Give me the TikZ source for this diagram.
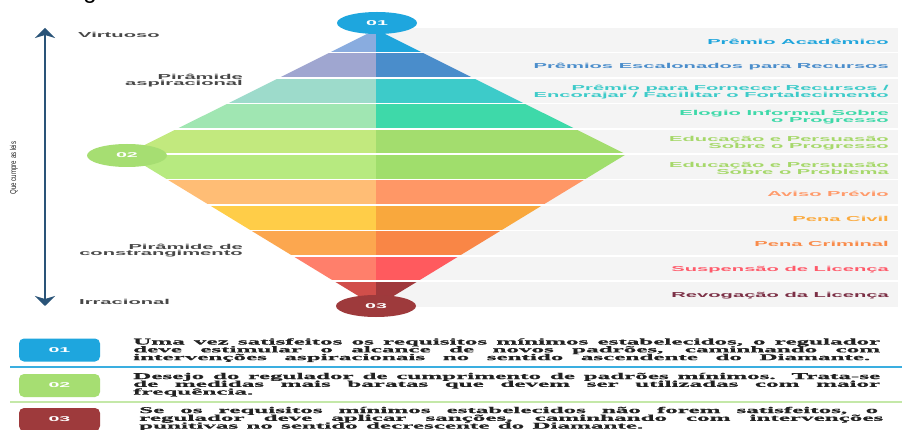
\documentclass[tikz,border=0pt]{standalone}
\usepackage{fontspec}
\setmainfont{Liberation Serif}
\newfontfamily\widesans{Liberation Sans Bold}[FakeStretch=2.8]
\newfontfamily\narrowsans{Liberation Sans}[FakeStretch=0.72]
\newfontfamily\wideserif{Liberation Serif Bold}[FakeStretch=2.85,FakeBold=0.8]
\newfontfamily\titlefont{Liberation Sans}
\usetikzlibrary{arrows.meta,shapes.geometric}

% band colours: left (light) and right (strong) half of every row
\definecolor{rowL1}{HTML}{89ACDF}\definecolor{rowR1}{HTML}{1FA5DC}
\definecolor{rowL2}{HTML}{9FA6D0}\definecolor{rowR2}{HTML}{4A8DCB}
\definecolor{rowL3}{HTML}{9DDBCB}\definecolor{rowR3}{HTML}{3DCBC9}
\definecolor{rowL4}{HTML}{A0E6B2}\definecolor{rowR4}{HTML}{3ED9A9}
\definecolor{rowL5}{HTML}{C2E97E}\definecolor{rowR5}{HTML}{A3DD6E}
\definecolor{rowL6}{HTML}{B7EA80}\definecolor{rowR6}{HTML}{A0DE6C}
\definecolor{rowL7}{HTML}{FFBD75}\definecolor{rowR7}{HTML}{FF9766}
\definecolor{rowL8}{HTML}{FFCD48}\definecolor{rowR8}{HTML}{F9A83D}
\definecolor{rowL9}{HTML}{FCA74F}\definecolor{rowR9}{HTML}{F98646}
\definecolor{rowL10}{HTML}{FF7F6B}\definecolor{rowR10}{HTML}{FF5A5E}
\definecolor{rowL11}{HTML}{D14E4A}\definecolor{rowR11}{HTML}{A0393C}
% label colours
\definecolor{txt1}{HTML}{1FA5DC}
\definecolor{txt2}{HTML}{4A8DCB}
\definecolor{txt3}{HTML}{3DCBC9}
\definecolor{txt4}{HTML}{3ED9A9}
\definecolor{txt5}{HTML}{A6D86A}
\definecolor{txt7}{HTML}{FF9A6A}
\definecolor{txt8}{HTML}{FBAA3E}
\definecolor{txt9}{HTML}{F98B4A}
\definecolor{txt10}{HTML}{FF5A6A}
\definecolor{txt11}{HTML}{7B2F45}
\definecolor{band}{HTML}{F4F4F4}
\definecolor{tagblue}{HTML}{1EA6DE}
\definecolor{taggreen}{HTML}{A6DE72}
\definecolor{tagred}{HTML}{9E3A3C}
\definecolor{axiscol}{HTML}{2A5478}
\definecolor{labelgray}{HTML}{474747}
\definecolor{legendtext}{HTML}{222222}
\definecolor{ruleblue}{HTML}{3AAEE0}
\definecolor{rulegreen}{HTML}{C4E8A8}

\begin{document}
\begin{tikzpicture}[x=1pt,y=-1pt,
  rowlabel/.style={anchor=east, align=right, inner sep=0pt,
    font=\widesans\fontsize{7.2}{7}\selectfont},
  sidelabel/.style={inner sep=0pt, text=labelgray,
    font=\widesans\fontsize{7.2}{6.3}\selectfont},
  tag/.style={ellipse, minimum width=80pt, minimum height=22pt, inner sep=0pt,
    text=white, font=\widesans\fontsize{7}{7}\selectfont},
  badge/.style={rounded corners=5pt, minimum width=81pt, minimum height=23pt,
    inner sep=0pt, text=white, font=\widesans\fontsize{7}{7}\selectfont},
  legend/.style={anchor=base west, inner sep=0pt, text=legendtext,
    font=\wideserif\fontsize{8.8}{8.8}\selectfont},
  sep/.style={white, line width=1.6pt},
  axis/.style={axiscol, line width=2pt,
    {Stealth[length=10pt,width=20pt,inset=3pt]}-{Stealth[length=10pt,width=20pt,inset=3pt]}},
]
\useasboundingbox (0,0) rectangle (902,430);
\fill[white] (0,0) rectangle (902,430);

% heading glyph cut by the top edge
\node[anchor=base, inner sep=0pt, font=\titlefont\fontsize{24}{24}\selectfont] (ttl) at (90,-1) {g};

% grey label band behind the right half
\fill[band] (376,28) rectangle (898,306.7);

% the diamond, row by row
\foreach \n/\ya/\xa/\yb/\xb in {1/29.5/376/52.7/329.5, 2/52.7/329.5/78.1/278.6,
    3/78.1/278.6/103.5/227.8, 4/103.5/227.8/128.9/176.9, 5/128.9/176.9/154.3/126,
    6/154.3/126/179.7/167.7, 7/179.7/167.7/205.1/209.4, 8/205.1/209.4/230.5/251.0,
    9/230.5/251.0/255.9/292.7, 10/255.9/292.7/281.3/334.3, 11/281.3/334.3/306.7/376}{
  \fill[rowL\n] (\xa,\ya) -- (\xb,\yb) -- (376.5,\yb) -- (376.5,\ya) -- cycle;
  \fill[rowR\n] ({752-\xa},\ya) -- ({752-\xb},\yb) -- (376,\yb) -- (376,\ya) -- cycle;
}
% white gaps between the rows
\foreach \y in {52.7,78.1,103.5,128.9,154.3,179.7,205.1,230.5,255.9,281.3}
  \draw[sep] (60,\y) -- (898,\y);

% round tags
\node[tag, fill=tagblue] (t1) at (377,23) {01};
\node[tag, fill=taggreen, minimum height=23pt] (t2) at (127,155.5) {02};
\node[tag, fill=tagred] (t3) at (376,306) {03};

% row labels
\node[rowlabel, text=txt1] (l1) at (889,41.5) {Prêmio Acadêmico};
\node[rowlabel, text=txt2] (l2) at (889,66.6) {Prêmios Escalonados para Recursos};
\node[rowlabel, text=txt3] (l3) at (889,92) {Prêmio para Fornecer Recursos /\\Encorajar / Facilitar o Fortalecimento};
\node[rowlabel, text=txt4] (l4) at (889,117.4) {Elogio Informal Sobre\\o Progresso};
\node[rowlabel, text=txt5] (l5) at (889,142.8) {Educação e Persuasão\\Sobre o Progresso};
\node[rowlabel, text=txt5] (l6) at (889,168.2) {Educação e Persuasão\\Sobre o Problema};
\node[rowlabel, text=txt7] (l7) at (889,193.6) {Aviso Prévio};
\node[rowlabel, text=txt8] (l8) at (889,219) {Pena Civil};
\node[rowlabel, text=txt9] (l9) at (889,244.4) {Pena Criminal};
\node[rowlabel, text=txt10] (l10) at (889,269.8) {Suspensão de Licença};
\node[rowlabel, text=txt11] (l11) at (889,295.2) {Revogação da Licença};

% left side captions
\node[sidelabel, anchor=base west] (virt) at (78,37.5) {Virtuoso};
\node[sidelabel, anchor=east, align=right] (asp) at (243,80.5) {Pirâmide\\aspiracional};
\node[sidelabel, anchor=east, align=right] (con) at (243,250.8) {Pirâmide de\\constrangimento};
\node[sidelabel, anchor=base west] (irr) at (79,305) {Irracional};

% vertical axis
\coordinate (axtop) at (45,28);
\coordinate (axbot) at (45,306);
\draw[axis] (axbot) -- (axtop);
\node[rotate=90, inner sep=0pt, text=legendtext,
  font=\narrowsans\fontsize{8.5}{8.5}\selectfont] (law) at (14,168) {Que cumpre as leis};

% legend
\node[badge, fill=tagblue] (b1) at (59.5,350) {01};
\node[badge, fill=taggreen] (b2) at (59.5,385.5) {02};
\node[badge, fill=tagred] (b3) at (59.5,419.5) {03};
\draw[ruleblue, line width=1.2pt] (10,367) -- (902,367);
\draw[rulegreen, line width=1.2pt] (10,402) -- (902,402);

\node[legend] (p1a) at (133,344.5) {\makebox[747pt][s]{Uma vez satisfeitos os requisitos mínimos estabelecidos, o regulador}};
\node[legend] (p1b) at (133,352.3) {\makebox[747pt][s]{deve estimular o alcance de novos padrões, caminhando com}};
\node[legend] (p1c) at (133,360.1) {\makebox[737pt][s]{intervenções aspiracionais no sentido ascendente do Diamante.}};

\node[legend] (p2a) at (133,379) {\makebox[747pt][s]{Desejo do regulador de cumprimento de padrões mínimos. Trata-se}};
\node[legend] (p2b) at (133,386.8) {\makebox[747pt][s]{de medidas mais baratas que devem ser utilizadas com maior}};
\node[legend] (p2c) at (133,394.6) {frequência.};

\node[legend] (p3a) at (139,413) {\makebox[739pt][s]{Se os requisitos mínimos estabelecidos não forem satisfeitos, o}};
\node[legend] (p3b) at (139,420.8) {\makebox[744pt][s]{regulador deve aplicar sanções, caminhando com intervenções}};
\node[legend] (p3c) at (139,428.6) {\makebox[504pt][s]{punitivas no sentido decrescente do Diamante.}};
\end{tikzpicture}
\end{document}
